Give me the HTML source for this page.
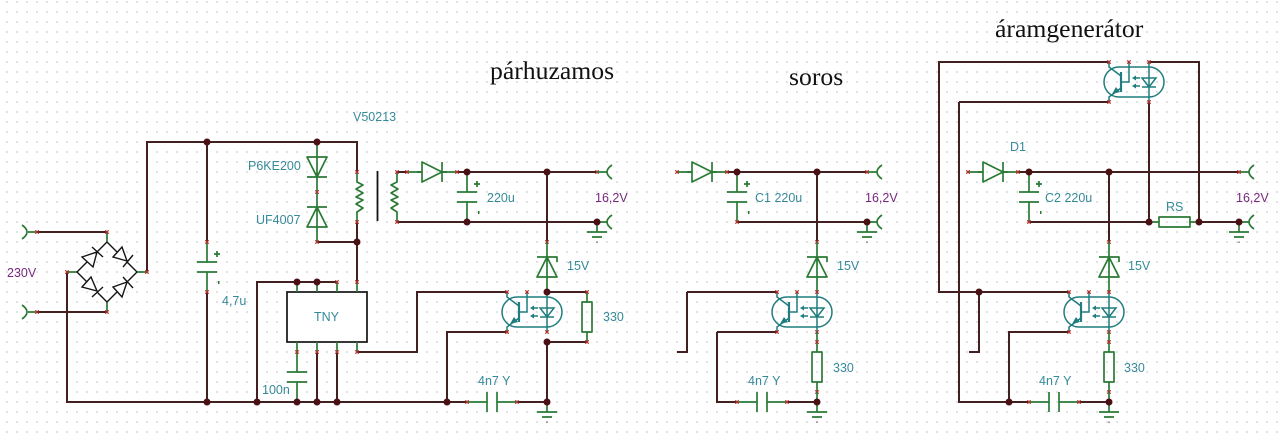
<!DOCTYPE html>
<html><head><meta charset="utf-8"><style>
html,body{margin:0;padding:0;background:#fff;width:1280px;height:440px;overflow:hidden}
svg{display:block;filter:blur(.35px)}
.w{fill:none;stroke:#432020;stroke-width:2}
.g{fill:none;stroke:#2a7a35;stroke-width:1.7;stroke-linejoin:round}
.k{fill:none;stroke:#141414;stroke-width:1.4}
.t{fill:none;stroke:#1f7d7f;stroke-width:1.5}
text{font-family:"Liberation Sans",sans-serif;font-size:12.5px;fill:#358a99}
.p{fill:#77277f}
.s{font-family:"Liberation Serif",serif;font-size:25.7px;fill:#111}
</style></head><body>
<svg width="1280" height="440" viewBox="0 0 1280 440" xmlns="http://www.w3.org/2000/svg">
<defs>
<pattern id="grid" x="6.25" y="1.25" width="10" height="10" patternUnits="userSpaceOnUse"><rect width="1.5" height="1.5" fill="#cdcdcd"/></pattern>
<circle id="n" r="3.5" fill="#4a1014"/>
<path id="x" d="M-1.7,-1.7L1.7,1.7M1.7,-1.7L-1.7,1.7" stroke="#b5302a" stroke-width="1.2" fill="none"/>
<g id="opto">
<path class="t" d="M10,5H40A15,15 0 0 1 40,35H10A15,15 0 0 1 10,5Z"/>
<path class="t" d="M0,0V5L12,14M0,40V35L12,26M12,20H20V0M40,0V40M33,16H47L40,25ZM33,25H47M31,16H25M31,24H25"/>
<path class="t" d="M12,10V30" style="stroke-width:2.2"/>
<path d="M3,32L7,25L11,30ZM23,16L27,13.5V18.5ZM23,24L27,21.5V26.5Z" fill="#1f7d7f"/>
<use href="#x"/><use href="#x" x="20"/><use href="#x" y="40"/><use href="#x" x="40" y="40"/>
</g>
<g id="gnd"><path class="g" d="M0,0V10M-10,10H10M-5,15H5"/><rect x="-.7" y="19.5" width="1.4" height="1.4" fill="#666"/></g>
<g id="diode"><path class="g" d="M-15,0H-10M10,0H15M-10,-10L10,0L-10,10ZM10,-10V10"/></g>
<g id="capv"><path class="g" d="M0,0V20M-10,20H10M-10,30H10M0,30V50"/><use href="#x"/><use href="#x" y="50"/></g>
<g id="caph"><path class="g" d="M0,0H20M20,-10V10M30,-10V10M30,0H50"/><use href="#x"/><use href="#x" x="50"/></g>
<g id="resv"><path class="g" d="M0,0V10M0,40V50M-5,10H5V40H-5Z"/><use href="#x"/><use href="#x" y="50"/></g>
</defs>
<rect width="1280" height="440" fill="url(#grid)"/>

<!-- titles -->
<text class="s" x="490" y="79">párhuzamos</text>
<text class="s" x="789" y="85">soros</text>
<text class="s" x="995" y="37">áramgenerátor</text>

<!-- LEFT wires -->
<path class="w" d="M37,232H107M37,312H107M147,272V142H357V172M67,272V402H467M517,402H547M207,142V242M207,292V402M317,242H357M357,222V282M257,402V282H337M317,352V402M337,352V402M357,352H417V292H507M447,402V332H507M397,172H407M457,172H597M397,222H597M547,172V242M547,292H587M547,342H587M547,342V402"/>
<!-- LEFT input connectors -->
<path class="g" d="M37,232H28M37,312H28M67,272H77M137,272H147M107,232V242M107,302V312M22,225Q32,232 22,239M22,305Q32,312 22,319"/>
<use href="#x" x="37" y="232"/><use href="#x" x="37" y="312"/><use href="#x" x="107" y="232"/><use href="#x" x="107" y="312"/><use href="#x" x="67" y="272"/><use href="#x" x="147" y="272"/>
<!-- bridge -->
<path class="k" d="M77,272L87,262M97,252L107,242M82,257L93,267L97,252ZM92,247L103,257
M107,242L117,252M127,262L137,272M113,257L122,247L127,261ZM123,267L133,255
M77,272L87,282M97,292L107,302M82,287L91,277L97,291ZM92,297L103,287
M107,302L117,292M127,282L137,272M113,287L122,297L127,282ZM123,277L133,288"/>
<!-- caps and diodes -->
<use href="#capv" x="207" y="242"/>
<path class="g" d="M214,254H220M217,251V257"/>
<rect x="218" y="281" width="1.5" height="3" fill="#2a7a35"/>
<path class="g" d="M317,142V242M307,157H327L317,177ZM307,177H327M307,207H327M307,227H327L317,207Z"/>
<use href="#x" x="317" y="192"/><use href="#x" x="317" y="242"/>
<!-- inductor primary -->
<path class="g" d="M357,172V182L363,185L356,189L363,193L356,197L363,200L356,204L363,208L357,212V222"/>
<use href="#x" x="357" y="172"/><use href="#x" x="357" y="222"/>
<path class="k" d="M377.5,171V221" style="stroke-width:1.8"/>
<!-- secondary -->
<path class="g" d="M397,172V182L391,185L398,189L391,193L398,197L391,200L398,204L391,208L397,212V222"/>
<use href="#x" x="397" y="172"/><use href="#x" x="397" y="222"/>
<use href="#diode" x="432" y="172"/>
<path class="g" d="M407,172H422M442,172H457"/>
<use href="#x" x="407" y="172"/><use href="#x" x="457" y="172"/>
<use href="#capv" x="467" y="172"/>
<path class="g" d="M474,184H480M477,181V187"/>
<rect x="478" y="211" width="1.5" height="3" fill="#2a7a35"/>
<use href="#x" x="597" y="172"/>
<path class="g" d="M597,172H607M597,222H607M612,165Q602,172 612,179M612,215Q602,222 612,229"/>
<use href="#gnd" x="597" y="222"/>
<use href="#x" x="547" y="242"/>
<path class="g" d="M547,242V292M537,277H557L547,257ZM537,257H557V262"/>
<use href="#resv" x="587" y="292"/>
<use href="#opto" x="507" y="292"/>
<use href="#x" x="547" y="342"/><use href="#x" x="507" y="332"/>
<!-- TNY -->
<rect x="287" y="292" width="80" height="50" fill="#fff" stroke="#141414" stroke-width="1.7"/>
<path class="g" d="M297,282V292M317,282V292M337,282V292M357,282V292M297,342V372M287,372H307M287,382H307M297,382V402M317,342V352M337,342V352M357,342V352"/>
<use href="#x" x="337" y="282"/><use href="#x" x="357" y="282"/><use href="#x" x="297" y="352"/><use href="#x" x="317" y="352"/><use href="#x" x="337" y="352"/><use href="#x" x="357" y="352"/>
<use href="#caph" x="467" y="402"/>
<use href="#gnd" x="547" y="402"/>
<g>
<use href="#n" x="207" y="142"/><use href="#n" x="317" y="142"/><use href="#n" x="357" y="242"/><use href="#n" x="207" y="402"/><use href="#n" x="257" y="402"/><use href="#n" x="297" y="402"/><use href="#n" x="317" y="402"/><use href="#n" x="337" y="402"/><use href="#n" x="447" y="402"/><use href="#n" x="547" y="402"/><use href="#n" x="297" y="282"/><use href="#n" x="317" y="282"/><use href="#n" x="467" y="172"/><use href="#n" x="547" y="172"/><use href="#n" x="467" y="222"/><use href="#n" x="597" y="222"/><use href="#n" x="547" y="292"/><use href="#n" x="547" y="342"/>
</g>
<text x="353" y="121">V50213</text>
<text x="248" y="170">P6KE200</text>
<text x="256" y="224">UF4007</text>
<text x="222" y="305">4,7u</text>
<text class="p" x="7" y="277">230V</text>
<text x="262" y="394">100n</text>
<text x="314" y="321">TNY</text>
<text x="487" y="202">220u</text>
<text class="p" x="595" y="202">16,2V</text>
<text x="567" y="270">15V</text>
<text x="603" y="321">330</text>
<text x="478" y="385">4n7 Y</text>

<!-- MIDDLE -->
<path class="w" d="M727,172H867M737,222H867M817,172V242M687,292H777M687,292V352H677M717,332H777M717,332V402H737M787,402H817"/>
<path class="g" d="M677,172H692M712,172H727M867,172H877M867,222H877M882,165Q872,172 882,179M882,215Q872,222 882,229"/>
<use href="#diode" x="702" y="172"/>
<use href="#x" x="677" y="172"/><use href="#x" x="727" y="172"/><use href="#x" x="867" y="172"/>
<use href="#capv" x="737" y="172"/>
<path class="g" d="M744,184H750M747,181V187"/>
<rect x="748" y="211" width="1.5" height="3" fill="#2a7a35"/>
<use href="#gnd" x="867" y="222"/>
<use href="#x" x="817" y="242"/>
<path class="g" d="M817,242V292M807,277H827L817,257ZM807,257H827V262"/>
<use href="#opto" x="777" y="292"/>
<use href="#x" x="817" y="292"/>
<path class="g" d="M817,332V342"/>
<use href="#resv" x="817" y="342"/>
<path class="g" d="M817,392V402"/>
<use href="#caph" x="737" y="402"/>
<use href="#gnd" x="817" y="402"/>
<use href="#n" x="737" y="172"/><use href="#n" x="817" y="172"/><use href="#n" x="867" y="222"/><use href="#n" x="817" y="402"/>
<text x="755" y="202">C1 220u</text>
<text class="p" x="865" y="202">16,2V</text>
<text x="837" y="270">15V</text>
<text x="833" y="372">330</text>
<text x="748" y="385">4n7 Y</text>

<!-- RIGHT -->
<path class="w" d="M1109,62H939V292H1069M1149,62H1199V222M959,102H1109M959,102V402H1029M1079,402H1109M979,292V352H969M1009,402V332H1069M1018,172H1239M1029,222H1149M1199,222H1239M1149,102V222M1109,172V242"/>
<use href="#opto" x="1109" y="62"/>
<use href="#x" x="1149" y="62"/>
<path class="g" d="M968,172H983M1003,172H1018M1239,172H1249M1239,222H1249M1254,165Q1244,172 1254,179M1254,215Q1244,222 1254,229"/>
<use href="#diode" x="993" y="172"/>
<use href="#x" x="968" y="172"/><use href="#x" x="1018" y="172"/><use href="#x" x="1239" y="172"/>
<use href="#capv" x="1029" y="172"/>
<path class="g" d="M1036,184H1042M1039,181V187"/>
<rect x="1040" y="211" width="1.5" height="3" fill="#2a7a35"/>
<path class="g" d="M1149,222H1159M1189,222H1199M1159,217H1190V227H1159Z"/>
<use href="#gnd" x="1239" y="222"/>
<use href="#x" x="1109" y="242"/>
<path class="g" d="M1109,242V292M1099,277H1119L1109,257ZM1099,257H1119V262"/>
<use href="#opto" x="1069" y="292"/>
<use href="#x" x="1109" y="292"/>
<path class="g" d="M1109,332V342"/>
<use href="#resv" x="1109" y="342"/>
<path class="g" d="M1109,392V402"/>
<use href="#caph" x="1029" y="402"/>
<use href="#gnd" x="1109" y="402"/>
<use href="#n" x="1029" y="172"/><use href="#n" x="1109" y="172"/><use href="#n" x="1149" y="222"/><use href="#n" x="1199" y="222"/><use href="#n" x="1239" y="222"/><use href="#n" x="979" y="292"/><use href="#n" x="1009" y="402"/><use href="#n" x="1109" y="402"/>
<text x="1010" y="151">D1</text>
<text x="1045" y="202">C2 220u</text>
<text class="p" x="1236" y="202">16,2V</text>
<text x="1166" y="211">RS</text>
<text x="1128" y="270">15V</text>
<text x="1124" y="372">330</text>
<text x="1039" y="385">4n7 Y</text>
</svg>
</body></html>
